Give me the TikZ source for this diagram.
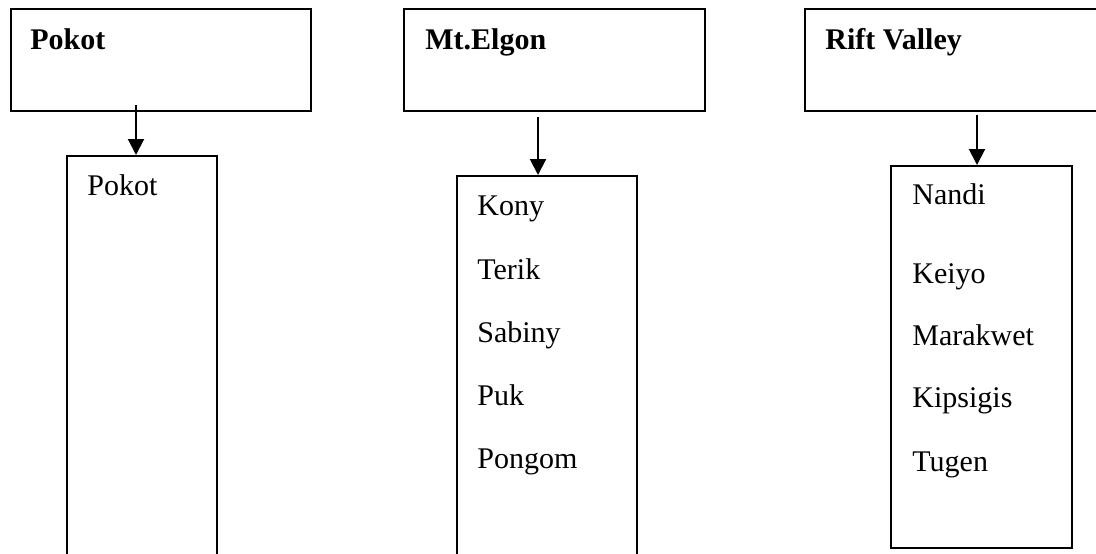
\documentclass[tikz,border=0pt]{standalone}
\usepackage{fontspec}
\setmainfont{Liberation Serif}
\usetikzlibrary{arrows.meta}
\begin{document}
\begin{tikzpicture}[x=0.5pt,y=-0.5pt,
  box/.style={draw=black,line width=1pt,rectangle,inner sep=0pt,anchor=north west},
  lbl/.style={inner sep=0pt,anchor=base west,font=\fontsize{15pt}{18pt}\selectfont},
  head/.style={lbl,font=\fontsize{15pt}{18pt}\selectfont\bfseries},
  arr/.style={line width=1pt,-{Triangle[length=8pt,width=8pt]}}]
\useasboundingbox (0,0) rectangle (1096,553);
\clip (0,0) rectangle (1096,553);
% top boxes
\node[box,minimum width=150pt,minimum height=51pt] (top1) at (10,8) {};
\node[box,minimum width=150.5pt,minimum height=51pt] (top2) at (403,8) {};
\node[box,minimum width=150pt,minimum height=51pt] (top3) at (804,8) {};
% lower boxes
\node[box,minimum width=75pt,minimum height=205pt] (low1) at (66,155) {};
\node[box,minimum width=90pt,minimum height=195pt] (low2) at (456,175) {};
\node[box,minimum width=90.5pt,minimum height=191pt] (low3) at (890,165) {};
% headings
\node[head] (h1) at (30,49) {Pokot};
\node[head] (h2) at (425,49) {Mt.Elgon};
\node[head] (h3) at (825,49) {Rift Valley};
% lists
\node[lbl] (p1) at (87,195) {Pokot};
\node[lbl] (m1) at (477,215) {Kony};
\node[lbl] (m2) at (477,279) {Terik};
\node[lbl] (m3) at (477,342) {Sabiny};
\node[lbl] (m4) at (477,405) {Puk};
\node[lbl] (m5) at (477,468) {Pongom};
\node[lbl] (r1) at (912,204) {Nandi};
\node[lbl] (r2) at (912,283) {Keiyo};
\node[lbl] (r3) at (912,345) {Marakwet};
\node[lbl] (r4) at (912,407) {Kipsigis};
\node[lbl] (r5) at (912,471) {Tugen};
% arrows
\coordinate (s1) at (136,105);
\coordinate (s2) at (538,117);
\coordinate (s3) at (977,115);
\draw[arr] (s1) -- (s1 |- low1.north);
\draw[arr] (s2) -- (s2 |- low2.north);
\draw[arr] (s3) -- (s3 |- low3.north);
\end{tikzpicture}
\end{document}
